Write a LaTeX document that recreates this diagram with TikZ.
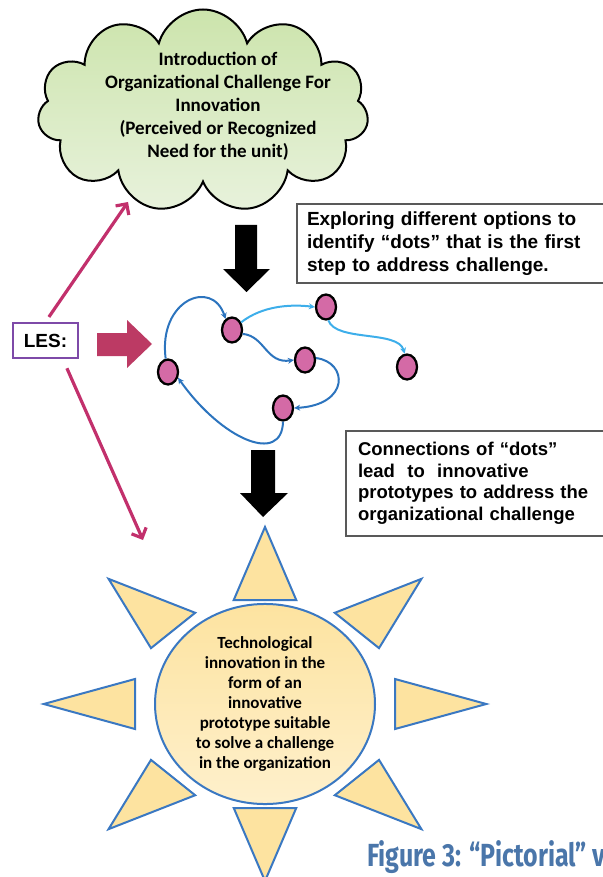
\documentclass[tikz,border=0pt]{standalone}
\usepackage{fontspec}
\setmainfont{Liberation Sans}
\newfontfamily\calfont{Carlito}
\newfontfamily\capfont[FakeStretch=0.78]{Fira Sans}
\usetikzlibrary{shapes.symbols,shapes.geometric,arrows.meta,calc}

\definecolor{cloudtop}{HTML}{CCE4AC}
\definecolor{cloudbot}{HTML}{E8F2DC}
\definecolor{crimson}{HTML}{BC3A64}
\definecolor{lesline}{HTML}{C2306C}
\definecolor{lespurple}{HTML}{7E4AA8}
\definecolor{dotpink}{HTML}{D46AA6}
\definecolor{darkblue}{HTML}{2C74BE}
\definecolor{lightblue}{HTML}{3DAEEA}
\definecolor{sunfill}{HTML}{FDE3A0}
\definecolor{sunlight}{HTML}{FEF0CC}
\definecolor{sunedge}{HTML}{3A78C2}
\definecolor{capblue}{HTML}{4A76AA}

\tikzstyle{dot} = [ellipse, draw=black, line width=2.3pt, fill=dotpink, minimum width=20pt, minimum height=25pt, inner sep=0pt]
\tikzstyle{link} = [line width=2pt, draw=darkblue, -{Stealth[length=6pt,width=6pt]}]
\tikzstyle{lightlink} = [link, draw=lightblue]
\tikzstyle{les} = [line width=3.2pt, draw=lesline, -{Straight Barb[length=8pt,width=16pt]}]
\tikzstyle{note} = [draw=black!65, line width=2pt, anchor=north west, align=left, inner xsep=6pt, font=\bfseries\fontsize{19}{23}\selectfont]
\tikzstyle{ray} = [draw=sunedge, line width=2pt, fill=sunfill]

\begin{document}
\begin{tikzpicture}[x=1pt,y=-1pt]
	\useasboundingbox (0,0) rectangle (602,877);
	\node[cloud, cloud puffs=11, cloud ignores aspect, draw=black, line width=2pt,
		top color=cloudtop, bottom color=cloudbot,
		minimum width=331pt, minimum height=203pt] (cloud) at (203,111) {};
	\node[align=center, font=\calfont\bfseries\fontsize{19}{23}\selectfont] (challenge)
		at (218,106) {Introduction of\\Organizational Challenge For\\Innovation\\(Perceived or Recognized\\Need for the unit)};
	
	\fill[black] (235,225) -- (257,225) -- (257,269) -- (270,269) -- (246.5,292) -- (223,269) -- (235,269) -- cycle;
	\node[note, minimum width=330pt, minimum height=79pt, text width=310pt] (explore) at (296,203)
		{Exploring different options to\\identify “dots” that is the first\\step to address challenge.};
	
	\node[draw=lespurple, line width=2.2pt, minimum width=65pt, minimum height=35pt,
		font=\bfseries\fontsize{19}{20}\selectfont] (les) at (45.5,340.5) {LES:};
	\coordinate (toCloud) at (128,202);
	\coordinate (toSun) at (143,540);
	\draw[les, shorten <=6pt] (les.north) -- (toCloud);
	\draw[les, shorten <=10pt] (les.-47) -- (toSun);
	\fill[crimson] (97,333) -- (127,333) -- (127,320) -- (152,344) -- (127,368) -- (127,356) -- (97,356) -- cycle;
	
	\node[dot] (d1) at (232,330) {};
	\node[dot] (d2) at (326,307) {};
	\node[dot] (d3) at (305,360) {};
	\node[dot] (d4) at (168,372) {};
	\node[dot] (d5) at (283,408) {};
	\node[dot] (d6) at (407,367) {};
	\draw[link] (d4.100) .. controls (158,300) and (212,278) .. (d1.120);
	\draw[lightlink] (d1.40) .. controls (262,306) and (290,304) .. (d2.180);
	\draw[lightlink] (d2.-80) .. controls (336,342) and (398,330) .. (d6.100);
	\draw[link] (d1.-20) .. controls (265,336) and (266,364) .. (d3.180);
	\draw[link] (d3.10) .. controls (348,362) and (350,405) .. (d5.0);
	\draw[link] (d5.-90) .. controls (282,465) and (222,440) .. (d4.-30);
	
	\fill[black] (251,450) -- (275,450) -- (275,493) -- (288,493) -- (263,517) -- (240,493) -- (251,493) -- cycle;
	\node[note, minimum width=275pt, minimum height=105pt, text width=255pt, inner xsep=12pt,
		font=\bfseries\fontsize{18.5}{21.5}\selectfont] (connect) at (345,430)
		{Connections of “dots”\\lead\ \ to\ \ innovative\\prototypes to address the\\organizational challenge};
	
	\node[ellipse, draw=sunedge, line width=2pt, top color=sunfill, bottom color=sunlight,
		minimum width=220pt, minimum height=178pt, align=center,
		font=\calfont\bfseries\fontsize{17}{20}\selectfont] (sun) at (265,704)
		{Technological\\innovation in the\\form of an\\innovative\\prototype suitable\\to solve a challenge\\in the organization};
	\begin{scope}[shift={(sun.center)}, xscale=1.25]
		\foreach \a in {0,45,...,315}
		\filldraw[ray] (\a:177) -- ($(\a:104)+(\a+90:25)$) -- ($(\a:104)+(\a-90:25)$) -- cycle;
	\end{scope}
	
	\node[anchor=base west, inner sep=0pt, text=capblue,
		font=\capfont\bfseries\fontsize{32}{32}\selectfont] (caption) at (367,866) {Figure 3: “Pictorial” v};
\end{tikzpicture}
\end{document}
